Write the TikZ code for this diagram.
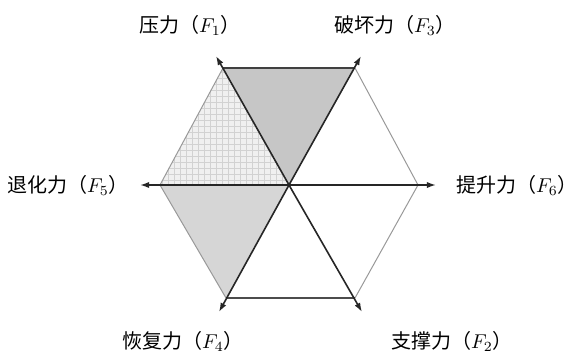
\documentclass[tikz,border=0pt]{standalone}
\usepackage{fontspec}
\newfontfamily\cjk{Noto Sans CJK SC}
\usetikzlibrary{arrows.meta,patterns}
\begin{document}
\begin{tikzpicture}[
  x=0.5pt,
  y=-0.5pt,
  every node/.style={font=\cjk\normalsize, inner sep=1pt},
  axis/.style={-{Latex[length=1.6mm,width=1.1mm]}, line width=0.8pt, black!85},
  rim/.style={line width=0.5pt, gray!80},
  darkrim/.style={line width=1.2pt, black!75},
  hard/.style={fill=gray!45},
  soft/.style={fill=gray!12},
  mid/.style={fill=gray!32}
]
\useasboundingbox (0,0) rectangle (580,354);

% hexagon corners and axis ends
\coordinate (O) at (289,185);
\coordinate (v1) at (223,68);
\coordinate (v3) at (355,68);
\coordinate (v6) at (418,185);
\coordinate (v2) at (355,298);
\coordinate (v4) at (226,298);
\coordinate (v5) at (160,185);
\coordinate (e1) at (216,56);
\coordinate (e3) at (361,56);
\coordinate (e6) at (436,185);
\coordinate (e2) at (362,312);
\coordinate (e4) at (219,312);
\coordinate (e5) at (140,185);

% shaded sectors
\fill[hard] (O) -- (v1) -- (v3) -- cycle;
\fill[soft] (O) -- (v5) -- (v1) -- cycle;
\fill[pattern=grid, pattern color=gray!35] (O) -- (v5) -- (v1) -- cycle;
\fill[mid] (O) -- (v4) -- (v5) -- cycle;

% rim
\draw[rim] (v3) -- (v6) -- (v2);
\draw[rim] (v4) -- (v5) -- (v1);
\draw[rim, line width=0.8pt, black!70] (v2) -- (v4);
\draw[darkrim] (v1) -- (v3);

% axes
\foreach \e in {e1,e2,e3,e4,e5,e6}
  \draw[axis] (O) -- (\e);

% labels
\node (F1) at (190,25) {压力（$F_1$）};
\node (F3) at (395,25) {破坏力（$F_3$）};
\node (F5) at (68,185) {退化力（$F_5$）};
\node (F6) at (517,185) {提升力（$F_6$）};
\node (F4) at (183,341) {恢复力（$F_4$）};
\node (F2) at (452,341) {支撑力（$F_2$）};
\end{tikzpicture}
\end{document}
